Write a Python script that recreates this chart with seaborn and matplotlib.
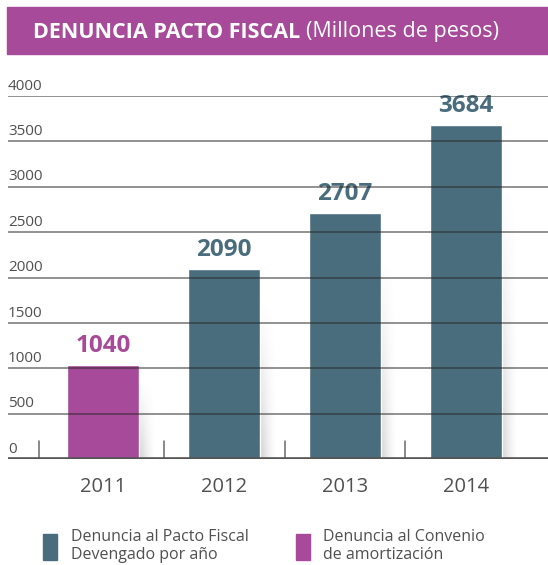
import numpy as np
import matplotlib.pyplot as plt
from matplotlib.patches import Rectangle, Patch
import seaborn as sns

years = ["2011", "2012", "2013", "2014"]
values = [1040, 2090, 2707, 3684]
series = ["Denuncia al Convenio\nde amortización",
          "Denuncia al Pacto Fiscal\nDevengado por año",
          "Denuncia al Pacto Fiscal\nDevengado por año",
          "Denuncia al Pacto Fiscal\nDevengado por año"]
yticks = [0, 500, 1000, 1500, 2000, 2500, 3000, 3500, 4000]

TEAL = "#496d7c"
PURPLE = "#a64a99"
GREY = "#505050"
palette = {series[1]: TEAL, series[0]: PURPLE}

sns.set_style("white")
plt.rcParams["font.family"] = ["Open Sans", "DejaVu Sans"]

fig = plt.figure(figsize=(5.48, 5.65), dpi=100)
W, H = 548, 565
ax = fig.add_axes([8 / W, (H - 459) / H, 540 / W, (459 - 96) / H])

# title banner
fig.patches.append(Rectangle((7 / W, (H - 54) / H), 1 - 7 / W, 47 / H,
                             transform=fig.transFigure, color=PURPLE, zorder=0))
title = fig.text(33 / W, (H - 32) / H, "DENUNCIA PACTO FISCAL", color="white",
                 fontsize=15.5, fontweight="bold", va="center", ha="left")
fig.canvas.draw()
bb = title.get_window_extent()
fig.text((bb.x1 + 6) / W, (H - 32) / H, "(Millones de pesos)", color="white",
         fontsize=15.5, va="center", ha="left")

bw = 0.595
sns.barplot(x=years, y=values, hue=series, palette=palette, dodge=False,
            width=bw, saturation=1, legend=False, ax=ax, zorder=2)

# value labels
for cont in list(ax.containers):
    for bar in cont:
        h = bar.get_height()
        if np.isnan(h):
            continue
        c = bar.get_facecolor()
        ax.annotate(f"{int(h)}", (bar.get_x() + bar.get_width() / 2, h),
                    xytext=(0, 5), textcoords="offset points", ha="center",
                    va="bottom", fontsize=17.5, fontweight="bold", color=c)

# soft shadows to the right of the bars (fade sideways and upwards)
gx = np.linspace(0, 1, 40)
gy = np.linspace(0, 1, 60)[:, None]
alpha = (1 - gx[None, :]) ** 1.5 * (1 - gy) ** 1.2 * 0.32
shade = np.zeros((60, 40, 4))
shade[..., :3] = 0.45
shade[..., 3] = alpha
for i, v in enumerate(values):
    x0 = i + bw / 2 + 0.004
    ax.imshow(shade, extent=[x0, x0 + 0.13, 0, v * 0.85], origin="lower",
              aspect="auto", zorder=1, interpolation="bilinear")

# grid lines over the bars, y labels sitting on them
for v in yticks[1:]:
    ax.axhline(v, color="#2a2a2a", alpha=0.6, lw=1.2, zorder=3)
    ax.text(0.0, v + 25, str(v), transform=ax.get_yaxis_transform(),
            ha="left", va="bottom", fontsize=11, color=GREY)
ax.text(0.0, 25, "0", transform=ax.get_yaxis_transform(),
        ha="left", va="bottom", fontsize=11, color=GREY)

ax.axhline(0, color="#555555", lw=2.6, zorder=4)
for x in [-0.53, 0.5, 1.5, 2.5]:
    ax.plot([x, x], [0, 200], color="#6a6a6a", lw=1.1, zorder=3)

ax.set_xlim(-0.79, 3.68)
ax.set_ylim(0, 4000)
ax.set_yticks([])
ax.tick_params(axis="x", length=0, pad=13, labelsize=14.5, labelcolor=GREY)
for s in ax.spines.values():
    s.set_visible(False)
ax.set_xlabel("")
ax.set_ylabel("")

handles = [Patch(color=TEAL, label=series[1]), Patch(color=PURPLE, label=series[0])]
fig.legend(handles=handles, loc="center left", bbox_to_anchor=(29 / W, (H - 546) / H),
           ncol=2, frameon=False, fontsize=11.5, handlelength=0.85, handleheight=2.1,
           columnspacing=3.0, handletextpad=0.85, labelcolor=GREY, labelspacing=0.1)

fig.savefig("out.png", dpi=100)
